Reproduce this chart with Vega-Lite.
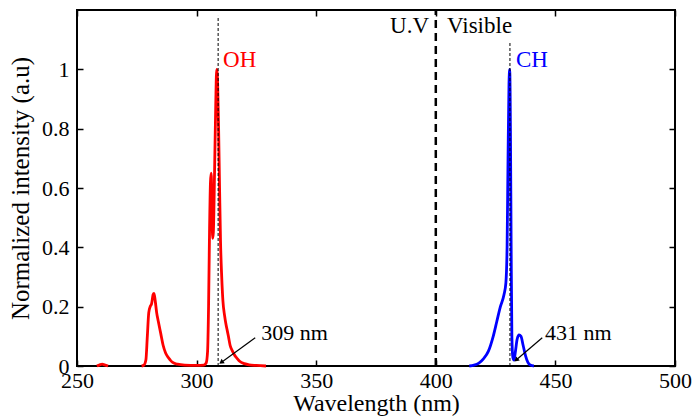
{
  "$schema": "https://vega.github.io/schema/vega-lite/v6.json",
  "width": 598,
  "height": 356,
  "autosize": "none",
  "padding": {"left": 77, "top": 10, "right": 20, "bottom": 50},
  "background": "white",
  "config": {
    "view": {"stroke": "black", "strokeWidth": 2},
    "font": "Times New Roman",
    "text": {"font": "Times New Roman"},
    "axis": {"grid": false, "domain": false, "tickColor": "black", "tickWidth": 1.5, "labelColor": "black", "titleColor": "black", "labelFont": "Times New Roman", "titleFont": "Times New Roman", "labelFontSize": 22, "titleFontSize": 25, "titleFontWeight": "normal", "labelFlush": false, "labelOverlap": false}
  },
  "datasets": {
    "spectra": [
      {"series": "OH", "seg": "a", "wl": 258.3, "I": 0},
      {"series": "OH", "seg": "a", "wl": 259.5, "I": 0.004},
      {"series": "OH", "seg": "a", "wl": 260.5, "I": 0.006},
      {"series": "OH", "seg": "a", "wl": 261.5, "I": 0.004},
      {"series": "OH", "seg": "a", "wl": 263, "I": 0},
      {"series": "OH", "seg": "b", "wl": 277, "I": 0},
      {"series": "OH", "seg": "b", "wl": 278, "I": 0.003},
      {"series": "OH", "seg": "b", "wl": 278.8, "I": 0.02},
      {"series": "OH", "seg": "b", "wl": 279.4, "I": 0.1},
      {"series": "OH", "seg": "b", "wl": 280, "I": 0.18},
      {"series": "OH", "seg": "b", "wl": 280.6, "I": 0.2},
      {"series": "OH", "seg": "b", "wl": 281.2, "I": 0.21},
      {"series": "OH", "seg": "b", "wl": 281.8, "I": 0.24},
      {"series": "OH", "seg": "b", "wl": 282.2, "I": 0.245},
      {"series": "OH", "seg": "b", "wl": 282.7, "I": 0.22},
      {"series": "OH", "seg": "b", "wl": 283.3, "I": 0.18},
      {"series": "OH", "seg": "b", "wl": 284, "I": 0.15},
      {"series": "OH", "seg": "b", "wl": 285, "I": 0.11},
      {"series": "OH", "seg": "b", "wl": 286, "I": 0.07},
      {"series": "OH", "seg": "b", "wl": 287, "I": 0.045},
      {"series": "OH", "seg": "b", "wl": 288, "I": 0.03},
      {"series": "OH", "seg": "b", "wl": 289, "I": 0.02},
      {"series": "OH", "seg": "b", "wl": 290, "I": 0.012},
      {"series": "OH", "seg": "b", "wl": 292, "I": 0.006},
      {"series": "OH", "seg": "b", "wl": 295, "I": 0.003},
      {"series": "OH", "seg": "b", "wl": 300, "I": 0.002},
      {"series": "OH", "seg": "b", "wl": 303, "I": 0.003},
      {"series": "OH", "seg": "b", "wl": 304, "I": 0.01},
      {"series": "OH", "seg": "b", "wl": 304.6, "I": 0.05},
      {"series": "OH", "seg": "b", "wl": 305, "I": 0.2},
      {"series": "OH", "seg": "b", "wl": 305.4, "I": 0.45},
      {"series": "OH", "seg": "b", "wl": 305.8, "I": 0.62},
      {"series": "OH", "seg": "b", "wl": 306.1, "I": 0.65},
      {"series": "OH", "seg": "b", "wl": 306.4, "I": 0.55},
      {"series": "OH", "seg": "b", "wl": 306.7, "I": 0.43},
      {"series": "OH", "seg": "b", "wl": 307, "I": 0.45},
      {"series": "OH", "seg": "b", "wl": 307.5, "I": 0.65},
      {"series": "OH", "seg": "b", "wl": 308, "I": 0.88},
      {"series": "OH", "seg": "b", "wl": 308.4, "I": 1.0},
      {"series": "OH", "seg": "b", "wl": 308.8, "I": 0.95},
      {"series": "OH", "seg": "b", "wl": 309.2, "I": 0.8},
      {"series": "OH", "seg": "b", "wl": 309.6, "I": 0.6},
      {"series": "OH", "seg": "b", "wl": 310, "I": 0.42},
      {"series": "OH", "seg": "b", "wl": 310.5, "I": 0.3},
      {"series": "OH", "seg": "b", "wl": 311, "I": 0.22},
      {"series": "OH", "seg": "b", "wl": 311.7, "I": 0.17},
      {"series": "OH", "seg": "b", "wl": 312.3, "I": 0.14},
      {"series": "OH", "seg": "b", "wl": 312.8, "I": 0.12},
      {"series": "OH", "seg": "b", "wl": 313.3, "I": 0.1},
      {"series": "OH", "seg": "b", "wl": 314, "I": 0.07},
      {"series": "OH", "seg": "b", "wl": 315, "I": 0.05},
      {"series": "OH", "seg": "b", "wl": 316, "I": 0.035},
      {"series": "OH", "seg": "b", "wl": 317, "I": 0.025},
      {"series": "OH", "seg": "b", "wl": 318, "I": 0.016},
      {"series": "OH", "seg": "b", "wl": 320, "I": 0.008},
      {"series": "OH", "seg": "b", "wl": 322, "I": 0.004},
      {"series": "OH", "seg": "b", "wl": 325, "I": 0.002},
      {"series": "OH", "seg": "b", "wl": 329, "I": 0},
      {"series": "CH", "seg": "c", "wl": 414, "I": 0},
      {"series": "CH", "seg": "c", "wl": 416, "I": 0.003},
      {"series": "CH", "seg": "c", "wl": 418, "I": 0.01},
      {"series": "CH", "seg": "c", "wl": 420, "I": 0.025},
      {"series": "CH", "seg": "c", "wl": 422, "I": 0.05},
      {"series": "CH", "seg": "c", "wl": 424, "I": 0.1},
      {"series": "CH", "seg": "c", "wl": 425.5, "I": 0.15},
      {"series": "CH", "seg": "c", "wl": 427, "I": 0.2},
      {"series": "CH", "seg": "c", "wl": 428.5, "I": 0.24},
      {"series": "CH", "seg": "c", "wl": 429.3, "I": 0.28},
      {"series": "CH", "seg": "c", "wl": 429.8, "I": 0.4},
      {"series": "CH", "seg": "c", "wl": 430.2, "I": 0.7},
      {"series": "CH", "seg": "c", "wl": 430.6, "I": 0.95},
      {"series": "CH", "seg": "c", "wl": 430.9, "I": 1.0},
      {"series": "CH", "seg": "c", "wl": 431.2, "I": 0.8},
      {"series": "CH", "seg": "c", "wl": 431.5, "I": 0.4},
      {"series": "CH", "seg": "c", "wl": 431.8, "I": 0.1},
      {"series": "CH", "seg": "c", "wl": 432.2, "I": 0.03},
      {"series": "CH", "seg": "c", "wl": 432.7, "I": 0.02},
      {"series": "CH", "seg": "c", "wl": 433.3, "I": 0.05},
      {"series": "CH", "seg": "c", "wl": 434, "I": 0.09},
      {"series": "CH", "seg": "c", "wl": 434.8, "I": 0.105},
      {"series": "CH", "seg": "c", "wl": 435.6, "I": 0.1},
      {"series": "CH", "seg": "c", "wl": 436.5, "I": 0.07},
      {"series": "CH", "seg": "c", "wl": 437.5, "I": 0.035},
      {"series": "CH", "seg": "c", "wl": 438.5, "I": 0.012},
      {"series": "CH", "seg": "c", "wl": 439.5, "I": 0.003},
      {"series": "CH", "seg": "c", "wl": 441, "I": 0}
    ],
    "thinlines": [
      {"wl": 309, "y": 0, "y2": 1.18},
      {"wl": 431, "y": 0, "y2": 1.09}
    ],
    "thickline": [
      {"wl": 400, "y": 0, "y2": 1.2}
    ],
    "species": [
      {"label": "OH", "series": "OH", "wl": 318, "y": 1.03},
      {"label": "CH", "series": "CH", "wl": 440.2, "y": 1.03}
    ],
    "uv": [
      {"label": "U.V", "wl": 397.2, "y": 1.145}
    ],
    "vis": [
      {"label": "Visible", "wl": 404.7, "y": 1.145}
    ],
    "arrows": [
      {"label": "309 nm", "wl": 324.5, "y": 0.095, "wl2": 310.3, "y2": 0.012, "tx": 327, "ty": 0.11, "ang": 234},
      {"label": "431 nm", "wl": 444.5, "y": 0.095, "wl2": 433.6, "y2": 0.02, "tx": 445.6, "ty": 0.11, "ang": 229}
    ]
  },
  "layer": [
    {
      "data": {"name": "spectra"},
      "mark": {"type": "line", "strokeWidth": 2.8, "interpolate": "monotone"},
      "encoding": {
        "x": {"field": "wl", "type": "quantitative", "scale": {"domain": [250, 500], "nice": false}, "axis": {"values": [250, 300, 350, 400, 450, 500], "title": "Wavelength (nm)", "titleFontSize": 24, "tickSize": -6, "labelPadding": 10, "titlePadding": 0}},
        "y": {"field": "I", "type": "quantitative", "scale": {"domain": [0, 1.2], "nice": false}, "axis": {"values": [0, 0.2, 0.4, 0.6, 0.8, 1], "format": ".1~f", "title": "Normalized intensity (a.u)", "tickSize": -6, "labelPadding": 14, "titlePadding": 8}},
        "color": {"field": "series", "type": "nominal", "scale": {"domain": ["OH", "CH"], "range": ["#ff0000", "#0000ff"]}, "legend": null},
        "detail": {"field": "seg"}
      }
    },
    {
      "data": {"name": "thinlines"},
      "mark": {"type": "rule", "color": "black", "strokeWidth": 1, "strokeDash": [3, 2]},
      "encoding": {
        "x": {"field": "wl", "type": "quantitative", "axis": {"orient": "top", "values": [250, 300, 350, 400, 450, 500], "labels": false, "title": null, "tickSize": -6}},
        "y": {"field": "y", "type": "quantitative", "axis": {"orient": "right", "values": [0, 0.2, 0.4, 0.6, 0.8, 1], "labels": false, "title": null, "tickSize": -6}},
        "y2": {"field": "y2"}
      }
    },
    {
      "data": {"name": "thickline"},
      "mark": {"type": "rule", "color": "black", "strokeWidth": 2.5, "strokeDash": [8, 5]},
      "encoding": {
        "x": {"field": "wl", "type": "quantitative", "axis": null},
        "y": {"field": "y", "type": "quantitative", "axis": null},
        "y2": {"field": "y2"}
      }
    },
    {
      "data": {"name": "species"},
      "mark": {"type": "text", "fontSize": 23, "align": "center", "baseline": "middle"},
      "encoding": {
        "x": {"field": "wl", "type": "quantitative", "axis": null},
        "y": {"field": "y", "type": "quantitative", "axis": null},
        "text": {"field": "label"},
        "color": {"field": "series", "type": "nominal", "scale": {"domain": ["OH", "CH"], "range": ["#ff0000", "#0000ff"]}, "legend": null}
      }
    },
    {
      "data": {"name": "uv"},
      "mark": {"type": "text", "fontSize": 23, "align": "right", "baseline": "middle", "color": "black"},
      "encoding": {
        "x": {"field": "wl", "type": "quantitative", "axis": null},
        "y": {"field": "y", "type": "quantitative", "axis": null},
        "text": {"field": "label"}
      }
    },
    {
      "data": {"name": "vis"},
      "mark": {"type": "text", "fontSize": 23, "align": "left", "baseline": "middle", "color": "black"},
      "encoding": {
        "x": {"field": "wl", "type": "quantitative", "axis": null},
        "y": {"field": "y", "type": "quantitative", "axis": null},
        "text": {"field": "label"}
      }
    },
    {
      "data": {"name": "arrows"},
      "mark": {"type": "rule", "color": "black", "strokeWidth": 1.2},
      "encoding": {
        "x": {"field": "wl", "type": "quantitative", "axis": null},
        "y": {"field": "y", "type": "quantitative", "axis": null},
        "x2": {"field": "wl2"},
        "y2": {"field": "y2"}
      }
    },
    {
      "data": {"name": "arrows"},
      "mark": {"type": "point", "shape": "triangle-up", "filled": true, "color": "black", "size": 30, "opacity": 1},
      "encoding": {
        "x": {"field": "wl2", "type": "quantitative", "axis": null},
        "y": {"field": "y2", "type": "quantitative", "axis": null},
        "angle": {"field": "ang", "type": "quantitative", "scale": null}
      }
    },
    {
      "data": {"name": "arrows"},
      "mark": {"type": "text", "fontSize": 22, "align": "left", "baseline": "middle", "color": "black"},
      "encoding": {
        "x": {"field": "tx", "type": "quantitative", "axis": null},
        "y": {"field": "ty", "type": "quantitative", "axis": null},
        "text": {"field": "label"}
      }
    }
  ],
  "resolve": {"axis": {"x": "independent", "y": "independent"}}
}
